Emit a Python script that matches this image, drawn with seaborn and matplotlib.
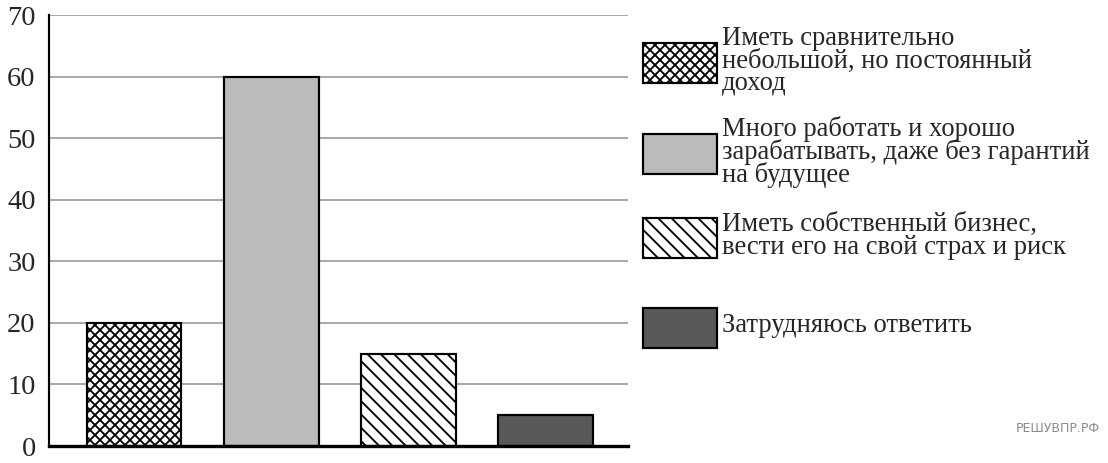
import numpy as np
import pandas as pd
import matplotlib
matplotlib.use("Agg")
import matplotlib.pyplot as plt
import matplotlib.patches as mpatches
import seaborn as sns

# Данные диаграммы
categories = [
    "Иметь сравнительно\nнебольшой, но постоянный\nдоход",
    "Много работать и хорошо\nзарабатывать, даже без гарантий\nна будущее",
    "Иметь собственный бизнес,\nвести его на свой страх и риск",
    "Затрудняюсь ответить",
]
values = [20, 60, 15, 5]
y_ticks = [0, 10, 20, 30, 40, 50, 60, 70]

# Оформление столбцов
fills = ["white", "#bbbbbb", "white", "#595959"]
hatches = ["xxxx", "", "\\\\\\", ""]

sns.set_style("white")
plt.rcParams["font.family"] = ["Liberation Serif", "DejaVu Serif"]
plt.rcParams["hatch.linewidth"] = 1.1

df = pd.DataFrame({"cat": categories, "val": values})

fig = plt.figure(figsize=(1108 / 120, 463 / 120), dpi=120)
ax = fig.add_axes([49 / 1108, 1 - 446 / 463, (628 - 49) / 1108, (446 - 15) / 463])

sns.barplot(data=df, x="cat", y="val", hue="cat", palette=fills, legend=False,
            width=0.69, edgecolor="black", linewidth=1.3, ax=ax, zorder=3)
for bar, h in zip(ax.patches, hatches):
    bar.set_hatch(h)

ax.set_xlim(-0.62, 3.6)
ax.set_ylim(0, 70)
ax.set_yticks(y_ticks)
ax.set_xticks([])
ax.set_xlabel("")
ax.set_ylabel("")
ax.tick_params(axis="y", length=0, pad=8, labelsize=17)
ax.yaxis.grid(True, color="#9a9a9a", linewidth=1.0, zorder=0)
ax.set_axisbelow(True)

for side in ["top", "right"]:
    ax.spines[side].set_visible(False)
ax.spines["left"].set_color("black")
ax.spines["left"].set_linewidth(1.3)
ax.spines["bottom"].set_color("black")
ax.spines["bottom"].set_linewidth(2.0)
ax.spines["bottom"].set_zorder(4)

# Легенда справа (ручная раскладка)
box_tops = [43, 134, 218, 308]
box_h = 40
for cat, fc, h, top in zip(categories, fills, hatches, box_tops):
    rect = mpatches.Rectangle((643 / 1108, 1 - (top + box_h) / 463), 74 / 1108, box_h / 463,
                              transform=fig.transFigure, facecolor=fc, edgecolor="black",
                              linewidth=1.3, hatch=h)
    fig.add_artist(rect)
    fig.text(722 / 1108, 1 - (top + box_h / 2 - 2) / 463, cat, ha="left", va="center",
             fontsize=16, linespacing=0.86)

fig.text(1100 / 1108, 1 - 428 / 463, "РЕШУВПР.РФ", ha="right", va="center",
         fontsize=7.5, color="#8a8a8a", family=["DejaVu Sans"])

fig.savefig("out.png", dpi=120)
